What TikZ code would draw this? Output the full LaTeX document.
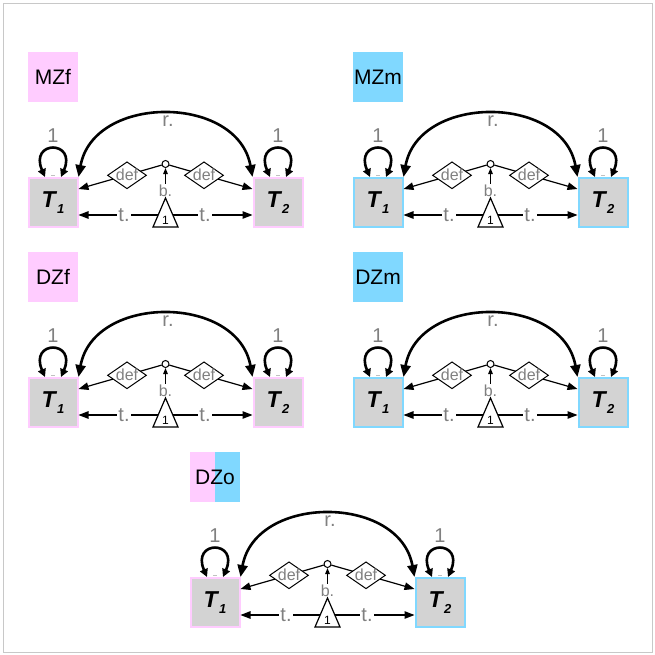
\documentclass[tikz,border=0pt]{standalone}
\usepackage{fontspec}
\setmainfont{Liberation Sans}
\usetikzlibrary{arrows.meta,shapes.geometric}
\definecolor{pk}{RGB}{255,204,255}
\definecolor{bl}{RGB}{128,216,255}
\definecolor{tgray}{RGB}{211,211,211}
\definecolor{txgray}{RGB}{128,128,128}
\definecolor{framegray}{RGB}{200,200,200}
\newcommand{\tlab}[1]{T\kern1.5pt\raisebox{-6pt}{\fontsize{13}{13}\selectfont\bfseries\itshape #1}}
\newcommand{\fixtext}[1]{\makebox[0pt]{\raisebox{-5.5pt}[0pt][0pt]{#1}}}
\tikzset{
  labelbox/.style={minimum width=50pt, minimum height=50pt, inner sep=0pt, font=\fontsize{21}{21}\selectfont},
  tbox/.style={draw, line width=2pt, fill=tgray, minimum width=49pt, minimum height=49pt, inner sep=0pt, font=\fontsize{23}{23}\selectfont\bfseries\itshape},
  glab/.style={text=txgray, inner sep=1.5pt, font=\fontsize{20}{20}\selectfont},
  blab/.style={text=txgray, fill=white, inner sep=1pt, font=\fontsize{16}{16}\selectfont},
  diam/.style={diamond, draw, line width=1pt, fill=white, text=txgray, inner sep=0pt, minimum width=39pt, minimum height=27pt, font=\fontsize{16}{16}\selectfont},
  dotnode/.style={circle, draw, line width=1pt, fill=white, minimum size=7pt, inner sep=0pt},
  thinline/.style={line width=1.2pt},
  heavy/.style={line width=2.6pt},
  ah/.style={-{Triangle[length=10pt,width=7.5pt]}},
  ahs/.style={-{Triangle[length=6pt,width=4.5pt]}},
  arcarr/.style={{Triangle[length=12pt,width=10pt]}-{Triangle[length=12pt,width=10pt]}},
  looparr/.style={{Triangle[length=8pt,width=8pt]}-{Triangle[length=8pt,width=8pt]}},
}
% #1 prefix, #2 dx, #3 dy, #4 label, #5 label left colour, #6 label right colour, #7 T1 border, #8 T2 border
\newcommand{\twinpanel}[8]{%
\begin{scope}[shift={(#2,#3)}]
  \node[labelbox, path picture={
      \fill[#5] (path picture bounding box.north west) rectangle (path picture bounding box.south);
      \fill[#6] (path picture bounding box.north) rectangle (path picture bounding box.south east);}]
      (#1lab) at (53,77) {#4};
  \node[tbox, draw=#7] (#1T1) at (53,202.5) {\tlab{1}};
  \node[tbox, draw=#8] (#1T2) at (278,202.5) {\tlab{2}};
  \node[dotnode] (#1c) at (165.5,164) {};
  \coordinate (#1apex) at (165.5,198);
  \coordinate (#1tri) at (165.5,215);
  % small marks at the box tops
  \draw[txgray!50, line width=0.8pt] ([xshift=-2pt,yshift=2pt]#1T1.north) -- ([xshift=2pt,yshift=2pt]#1T1.north);
  \draw[txgray!50, line width=0.8pt] ([xshift=-2pt,yshift=2pt]#1T2.north) -- ([xshift=2pt,yshift=2pt]#1T2.north);
  % self loops
  \draw[heavy, looparr] ([xshift=-8pt]#1T1.north) .. controls +(-16,-37) and +(16,-37) .. ([xshift=8pt]#1T1.north);
  \draw[heavy, looparr] ([xshift=-8pt]#1T2.north) .. controls +(-16,-37) and +(16,-37) .. ([xshift=8pt]#1T2.north);
  \node[glab] (#1v1) at (53,136) {1};
  \node[glab] (#1v2) at (278,136) {1};
  % covariance arc
  \draw[heavy, arcarr] (#1T1.north east) .. controls +(15,-83) and +(-15,-83) .. (#1T2.north west);
  \node[glab] (#1r) at (168,121) {r.};
  % definition paths
  \draw[thinline, ah] (#1c) -- ([yshift=13.5pt]#1T1.east);
  \draw[thinline, ah] (#1c) -- ([yshift=13.5pt]#1T2.west);
  \node[diam] (#1d1) at (127,175.3) {\fixtext{def}};
  \node[diam] (#1d2) at (204,175.3) {\fixtext{def}};
  % b. path
  \draw[thinline, ahs] (#1apex) -- (#1c);
  \node[blab] (#1b) at (165.5,190.5) {b.};
  % t. paths
  \draw[thinline, ah] (#1tri) -- ([yshift=-12.5pt]#1T1.east);
  \draw[thinline, ah] (#1tri) -- ([yshift=-12.5pt]#1T2.west);
  \node[glab, fill=white] (#1t1) at (124,215) {t.};
  \node[glab, fill=white] (#1t2) at (205,215) {t.};
  \draw[thinline, fill=white, line join=miter] (#1apex) -- (178,227) -- (153,227) -- cycle;
  \node[font=\fontsize{12}{12}\selectfont, inner sep=0pt] (#1one) at (165.5,220.5) {1};
\end{scope}}
\begin{document}
\begin{tikzpicture}[x=1pt, y=-1pt]
  \useasboundingbox (0,0) rectangle (655,655);
  \draw[framegray, line width=1pt] (3.5,3.5) rectangle (652.5,652.5);
  \twinpanel{a}{0}{0}{MZf}{pk}{pk}{pk}{pk}
  \twinpanel{b}{325}{0}{MZm}{bl}{bl}{bl}{bl}
  \twinpanel{c}{0}{200}{DZf}{pk}{pk}{pk}{pk}
  \twinpanel{d}{325}{200}{DZm}{bl}{bl}{bl}{bl}
  \twinpanel{e}{162}{400}{DZo}{pk}{bl}{pk}{bl}
\end{tikzpicture}
\end{document}
